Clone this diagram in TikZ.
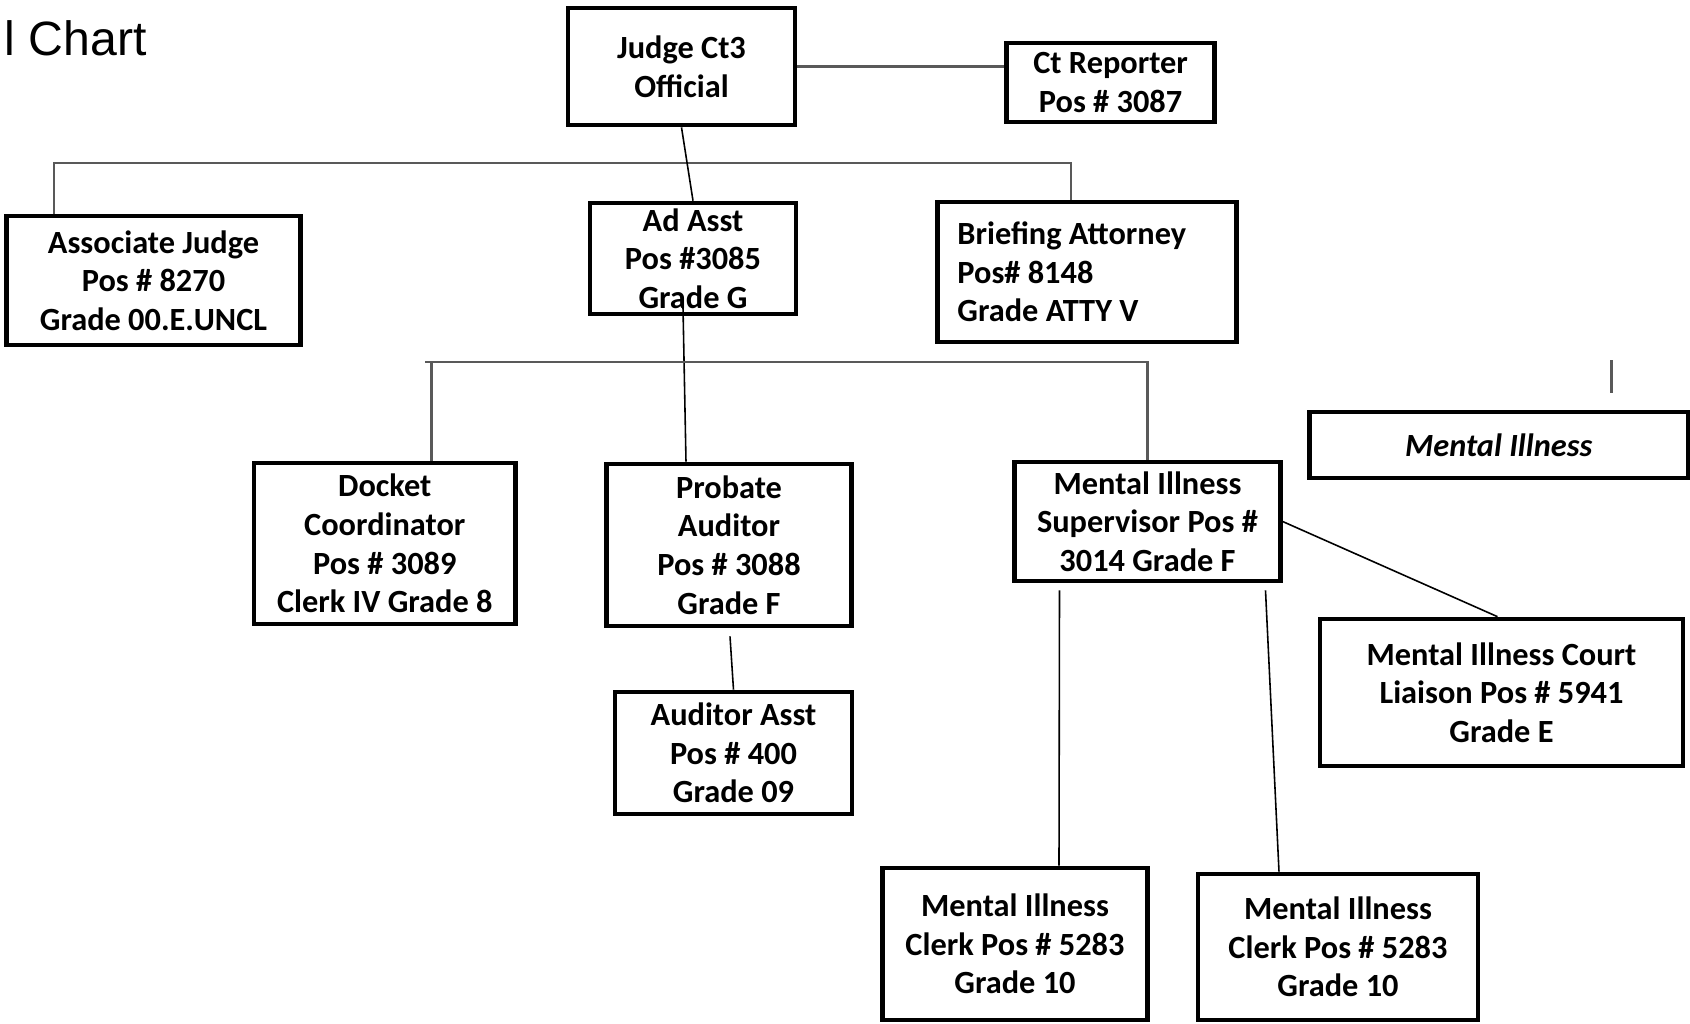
\documentclass[tikz,border=0pt]{standalone}
\usepackage{fontspec}
\setmainfont{Carlito}
\newfontfamily\titlefont{Liberation Sans}
\usetikzlibrary{calc}

\begin{document}
\begin{tikzpicture}[x=0.01cm, y=-0.01cm]
\tikzset{% one unit is one pixel of the chart
  block/.style={rectangle, draw, line width=1.3pt, inner sep=0pt, align=center,
    font=\fontsize{9.2}{11}\selectfont\bfseries},
  line/.style={draw, line width=0.45pt, color=black},
  bar/.style={draw, line width=0.75pt, color=black!65},
}
\useasboundingbox (0,0) rectangle (1690,1023);

\node[anchor=base west, inner sep=0pt, font=\titlefont\fontsize{13.7}{16}\selectfont]
  (Title) at (4,55) {l Chart};

\node[block, minimum width=2.27cm, minimum height=1.17cm]
  (Judge) at (681.5,66.5) {Judge Ct3\\Official};
\node[block, minimum width=2.08cm, minimum height=0.79cm]
  (CtReporter) at (1110.6,82.5) {Ct Reporter\\Pos \# 3087};

\node[block, minimum width=2.94cm, minimum height=1.29cm]
  (AssociateJudge) at (153.5,280.5) {Associate Judge\\Pos \# 8270\\Grade 00.E.UNCL};
\node[block, minimum width=2.06cm, minimum height=1.11cm]
  (AdAsst) at (693,258.5) {Ad Asst\\Pos \#3085\\Grade G};
\node[block, minimum height=1.40cm, text width=2.59cm, inner xsep=0.2cm, align=flush left]
  (BriefingAttorney) at (1087,272) {Briefing Attorney\\Pos\# 8148\\Grade ATTY V};

\node[block, minimum width=2.615cm, minimum height=1.61cm]
  (DocketCoordinator) at (384.8,543.5) {Docket\\Coordinator\\Pos \# 3089\\Clerk IV Grade 8};
\node[block, minimum width=2.45cm, minimum height=1.62cm]
  (ProbateAuditor) at (729,545) {Probate\\Auditor\\Pos \# 3088\\Grade F};
  \node[block, minimum width=2.37cm, minimum height=1.22cm]
    (AuditorAsst) at (733.5,753) {Auditor Asst\\Pos \# 400\\Grade 09};
\node[block, minimum width=2.656cm, minimum height=1.19cm]
  (Supervisor) at (1147.5,521.5) {Mental Illness\\Supervisor Pos \#\\3014 Grade F};
  \node[block, minimum width=3.63cm, minimum height=1.47cm]
    (CourtLiaison) at (1501.5,692.5) {Mental Illness Court\\Liaison Pos \# 5941\\Grade E};
  \node[block, minimum width=2.65cm, minimum height=1.52cm]
    (ClerkOne) at (1015,944) {Mental Illness\\Clerk Pos \# 5283\\Grade 10};
  \node[block, minimum width=2.80cm, minimum height=1.46cm]
    (ClerkTwo) at (1338,947) {Mental Illness\\Clerk Pos \# 5283\\Grade 10};

\node[block, minimum width=3.786cm, minimum height=0.66cm,
  font=\fontsize{9.2}{11}\selectfont\bfseries\itshape]
  (MentalIllness) at (1498.7,445) {Mental Illness};

\coordinate (TopBar) at (500,163);
\coordinate (MidBar) at (425,362);
\coordinate (TickTop) at (1611.7,360);
\coordinate (TickBottom) at (1611.7,393);

\draw[bar] (Judge.east) -- (Judge.east -| CtReporter.west);
\draw[bar] (AssociateJudge.north west) ++(50,0) |- (TopBar)
  -| ($(BriefingAttorney.north)+(-16,0)$);
\draw[line] (Judge.south) -- (AdAsst.north);
\draw[line] ($(AdAsst.south)+(-10,-9)$) -- ($(ProbateAuditor.north)+(-43,0)$);
\draw[bar] (MidBar) -| (Supervisor.north);
\draw[bar] ($(DocketCoordinator.north)+(47,0)$) |- (MidBar);
\draw[line] ($(ProbateAuditor.south)+(1,8)$) -- (AuditorAsst.north);
\draw[line] (Supervisor.east) -- ($(CourtLiaison.north)+(-4,0)$);
\draw[line] ($(Supervisor.south)+(-88,7)$) -- ($(ClerkOne.north)+(44,0)$);
\draw[line] ($(Supervisor.south)+(118,7)$) -- ($(ClerkTwo.north)+(-59,0)$);
\draw[bar] (TickTop) -- (TickBottom);
\end{tikzpicture}
\end{document}
